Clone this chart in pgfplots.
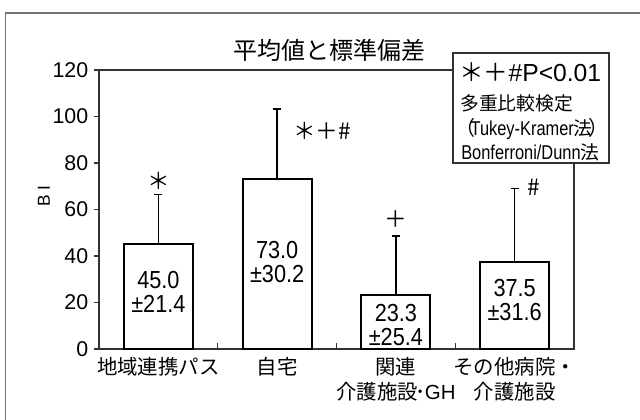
\documentclass[border=0pt]{standalone}
\usepackage{pgfplots}
\pgfplotsset{compat=1.18}
\usepackage{fontspec}
\setmainfont{Liberation Sans}
\newfontfamily\jp{Noto Sans CJK JP}
\newfontfamily\narrow[FakeStretch=0.82]{Liberation Sans}
\newfontfamily\numfont[FakeStretch=0.88]{Liberation Sans}

\begin{document}
\begin{tikzpicture}[x=0.75pt,y=0.75pt]
\path[use as bounding box] (0,0) rectangle (640,419);
% outer frame (only top and left edges fall inside the page)
\draw[black!55, line width=1.3pt] (5.5,-20) -- (5.5,406) -- (680,406);

\begin{axis}[
  at={(74.25pt,52.5pt)}, anchor=south west, scale only axis,
  width=356.25pt, height=209.25pt,
  xmin=-0.5, xmax=3.5, ymin=0, ymax=120,
  ytick={0,20,...,120},
  xtick={0,1,2,3},
  xticklabels={地域連携パス, 自宅, {関連\\介護施設{\kern-0.1em･\kern-0.05em}{\rmfamily GH}}, {その他病院・\\介護施設}},
  minor xtick={0.5,1.5,2.5},
  xtick pos=bottom, ytick pos=left,
  tick align=outside,
  major tick length=3.6pt,
  minor tick length=4.5pt,
  major x tick style={draw=none},
  minor x tick style={yshift=4.5pt, line width=0.8pt, black!80},
  every tick/.style={line width=0.8pt, black!80},
  axis line style={line width=0.9pt, black!80},
  /pgf/number format/assume math mode=true,
  yticklabel style={font=\fontsize{16}{18}\selectfont, xshift=-1pt},
  xticklabel style={align=center, font=\jp\fontsize{15.3}{18.8}\selectfont, yshift=1pt},
  clip=false,
]
\addplot[ybar, bar width=0.58, fill=white, draw=black, line width=1.5pt,
  error bars/.cd, y dir=plus, y explicit,
  error bar style={line width=1.1pt, black},
  error mark options={line width=1.1pt, mark size=3pt, rotate=90}]
  coordinates {
    (0,45.0) +- (0,21.4)
    (1,73.0) +- (0,30.2)
    (2,23.3) +- (0,25.4)
    (3,37.5) +- (0,31.6)
  };

% mean and SD inside the bars
\begin{scope}[every node/.style={align=center, inner sep=0pt,
    font=\numfont\fontsize{18.5}{18}\selectfont}]
\node at (axis cs:0,24.5) {45.0\\±21.4};
\node at (axis cs:1,37.5) {73.0\\±30.2};
\node at (axis cs:2,10.5) {23.3\\±25.4};
\node at (axis cs:3,21) {37.5\\±31.6};
\end{scope}

% significance markers
\begin{scope}[every node/.style={inner sep=0pt, font=\jp\fontsize{17}{17}\selectfont}]
\node at (axis cs:0,72.5) {＊};
\node at (axis cs:1.38,93.6) {＊＋\#};
\node at (axis cs:2,56) {＋};
\node at (axis cs:3.16,69.5) {\#};
\end{scope}
\end{axis}

% y axis label
\node[rotate=90, font=\fontsize{13}{14}\selectfont, inner sep=0pt] at (44,223) {B I};

% title
\node[font=\jp\fontsize{18}{20}\selectfont, inner sep=0pt] at (329,369) {平均値と標準偏差};

% test note box
\draw[black!80, line width=0.9pt, fill=white] (453,256) rectangle (609,366);
\begin{scope}[every node/.style={anchor=west, inner sep=0pt}]
\node[font=\fontsize{18.5}{20}\selectfont] at (459,347) {{\jp ＊＋}\#P<0.01};
\node[font=\jp\fontsize{14.1}{16}\selectfont] at (460,316) {多重比較検定};
\node[font=\fontsize{15}{16}\selectfont] at (455,290) {{\jp （}\kern-3.5pt{\narrow Tukey-Kramer}{\jp\fontsize{14.1}{16}\selectfont 法}\kern-3.5pt{\jp ）}};
\node[font=\fontsize{15}{16}\selectfont] at (461,267) {{\narrow Bonferroni/Dunn}{\jp\fontsize{14.1}{16}\selectfont 法}};
\end{scope}
\end{tikzpicture}
\end{document}
